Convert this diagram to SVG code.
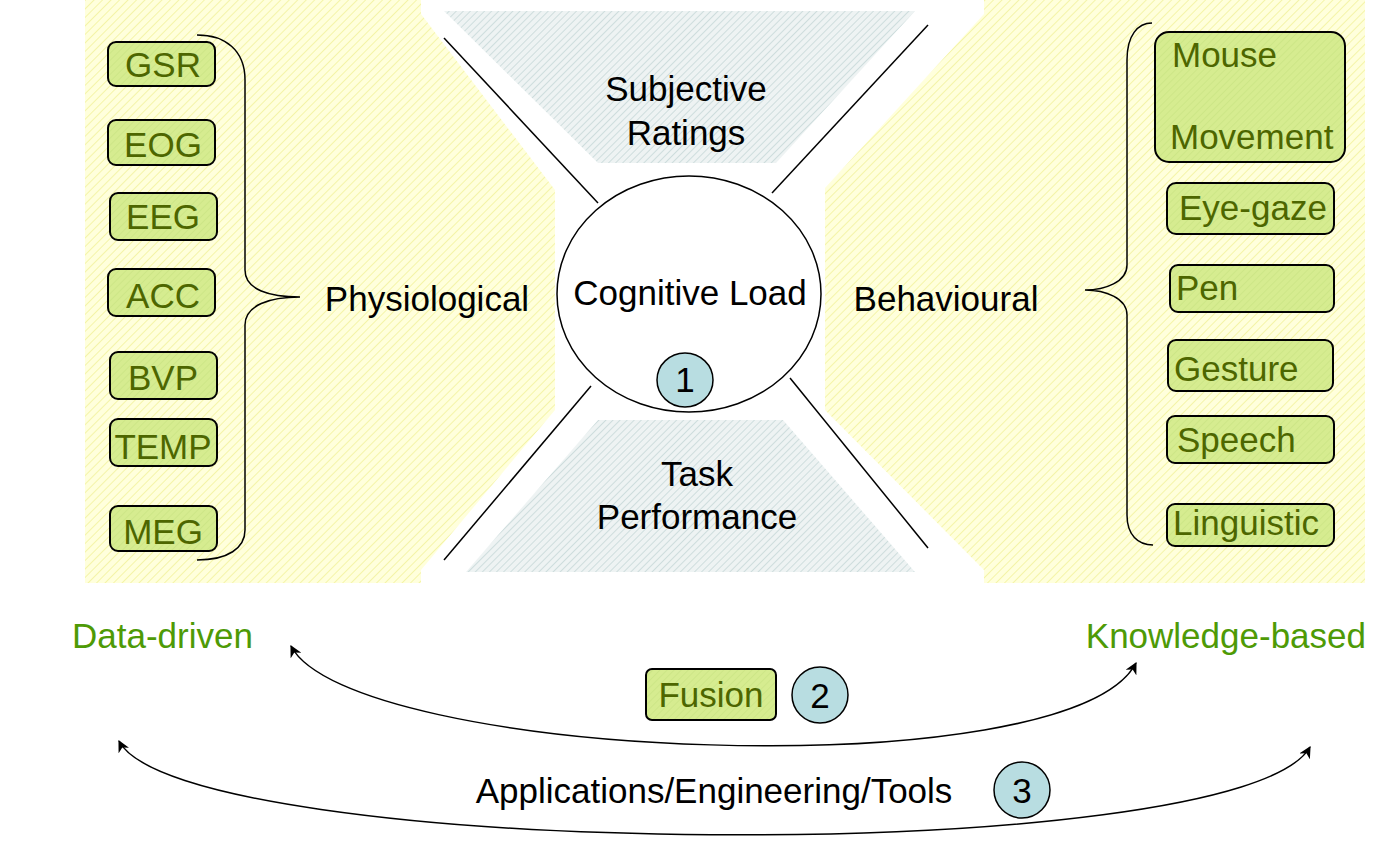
<svg xmlns="http://www.w3.org/2000/svg" width="1391" height="844" viewBox="0 0 1391 844">
<defs>
<pattern id="yh" width="6" height="6" patternUnits="userSpaceOnUse" patternTransform="rotate(45)"><rect width="6" height="6" fill="#ffffdc"/><line x1="0" y1="0" x2="0" y2="6" stroke="#f4f4a8" stroke-width="2"/></pattern>
<pattern id="gh" width="5" height="5" patternUnits="userSpaceOnUse" patternTransform="rotate(45)"><rect width="5" height="5" fill="#eef3f3"/><line x1="0" y1="0" x2="0" y2="5" stroke="#c4d6d6" stroke-width="1.5"/></pattern>
<pattern id="bh" width="5" height="5" patternUnits="userSpaceOnUse" patternTransform="rotate(45)"><rect width="5" height="5" fill="#d6ec90"/><line x1="0" y1="0" x2="0" y2="5" stroke="#cbe584" stroke-width="1.5"/></pattern>
<marker id="ar" viewBox="0 0 10 10" refX="9" refY="5" markerWidth="12" markerHeight="12" orient="auto-start-reverse" markerUnits="userSpaceOnUse"><path d="M0,0 L10,5 L0,10 L3,5 z" fill="#000"/></marker>
</defs>
<style>
.box{fill:url(#bh);stroke:#000;stroke-width:2}
.bt{font-family:"Liberation Sans",Arial,sans-serif;font-size:35px;fill:#4d6600}
.t{font-family:"Liberation Sans",Arial,sans-serif;font-size:35px;fill:#000}
.g{font-family:"Liberation Sans",Arial,sans-serif;font-size:35px;fill:#4e9a06}
.ln{stroke:#000;stroke-width:1.5;fill:none}
.badge{fill:#b8dde1;stroke:#000;stroke-width:1.5}
</style>
<rect width="1391" height="844" fill="#fff"/>
<g id="bg">
<polygon points="85,0 421,0 421,14 555,190 555,410 421,570 421,583 85,583" fill="url(#yh)"/>
<polygon points="1365,0 984,0 984,14 825,188 825,410 984,570 984,583 1365,583" fill="url(#yh)"/>
<polygon points="444,11 915,11 776,163 598,163" fill="url(#gh)"/>
<polygon points="598,420 783,420 915,572 466,572" fill="url(#gh)"/>
</g>
<g id="frame-lines">
<line class="ln" x1="444" y1="38" x2="598" y2="203"/>
<line class="ln" x1="928" y1="25" x2="772" y2="193"/>
<line class="ln" x1="591" y1="386" x2="444" y2="560"/>
<line class="ln" x1="790" y1="378" x2="928" y2="548"/>
</g>
<g id="subjective"><text class="t" x="686" y="101" text-anchor="middle">Subjective</text><text class="t" x="686" y="145" text-anchor="middle">Ratings</text></g>
<g id="task"><text class="t" x="697" y="486" text-anchor="middle">Task</text><text class="t" x="697" y="529" text-anchor="middle">Performance</text></g>
<g id="cognitive"><ellipse cx="689" cy="294" rx="132" ry="118" fill="#fff" stroke="#000" stroke-width="1.5"/><text class="t" x="690" y="305" text-anchor="middle">Cognitive Load</text></g>
<g id="badge1"><ellipse class="badge" cx="685" cy="380" rx="28" ry="27"/><text class="t" x="685" y="392" text-anchor="middle">1</text></g>
<g id="physiological"><text class="t" x="427" y="311" text-anchor="middle">Physiological</text></g>
<g id="behavioural"><text class="t" x="946" y="311" text-anchor="middle">Behavioural</text></g>
<g id="left-brace"><path class="ln" d="M197,35 C225,35 245,50 245,80 L245,270 C245,290 270,297 300,297 C270,297 245,305 245,325 L245,530 C245,548 228,560 197,560"/></g>
<g id="right-brace"><path class="ln" d="M1152,23 C1138,23 1127,35 1127,60 L1127,265 C1127,282 1105,290 1085,290 C1105,290 1127,298 1127,315 L1127,515 C1127,535 1138,545 1153,545"/></g>
<g id="gsr"><rect class="box" x="108" y="42" width="107" height="44" rx="8"/><text class="bt" x="163" y="77" text-anchor="middle">GSR</text></g>
<g id="eog"><rect class="box" x="108" y="120" width="107" height="45" rx="8"/><text class="bt" x="163" y="157" text-anchor="middle">EOG</text></g>
<g id="eeg"><rect class="box" x="110" y="193" width="107" height="47" rx="8"/><text class="bt" x="163" y="229" text-anchor="middle">EEG</text></g>
<g id="acc"><rect class="box" x="108" y="269" width="107" height="47" rx="8"/><text class="bt" x="163" y="308" text-anchor="middle">ACC</text></g>
<g id="bvp"><rect class="box" x="110" y="352" width="107" height="47" rx="8"/><text class="bt" x="163" y="390" text-anchor="middle">BVP</text></g>
<g id="temp"><rect class="box" x="110" y="419" width="107" height="47" rx="8"/><text class="bt" x="163" y="459" text-anchor="middle">TEMP</text></g>
<g id="meg"><rect class="box" x="110" y="506" width="107" height="45" rx="8"/><text class="bt" x="163" y="544" text-anchor="middle">MEG</text></g>
<g id="mouse"><rect class="box" x="1155" y="32" width="190" height="130" rx="14" stroke-width="4"/><text class="bt" x="1172" y="67">Mouse</text><text class="bt" x="1170" y="149">Movement</text></g>
<g id="eyegaze"><rect class="box" x="1167" y="183" width="167" height="51" rx="9"/><text class="bt" x="1179" y="220">Eye-gaze</text></g>
<g id="pen"><rect class="box" x="1170" y="265" width="164" height="47" rx="8"/><text class="bt" x="1176" y="300">Pen</text></g>
<g id="gesture"><rect class="box" x="1168" y="340" width="165" height="51" rx="8"/><text class="bt" x="1174" y="381">Gesture</text></g>
<g id="speech"><rect class="box" x="1167" y="416" width="167" height="47" rx="8"/><text class="bt" x="1177" y="452">Speech</text></g>
<g id="linguistic"><rect class="box" x="1167" y="504" width="167" height="42" rx="8"/><text class="bt" x="1173" y="535">Linguistic</text></g>
<g id="datadriven"><text class="g" x="72" y="648">Data-driven</text></g>
<g id="knowledge"><text class="g" x="1366" y="648" text-anchor="end">Knowledge-based</text></g>
<g id="connectors">
<path class="ln" d="M291,646 C350,760 1070,790 1136,663" marker-start="url(#ar)" marker-end="url(#ar)"/>
<path class="ln" d="M119,741 C180,860 1240,870 1310,747" marker-start="url(#ar)" marker-end="url(#ar)"/>
</g>
<g id="fusion"><rect class="box" x="646" y="669" width="130" height="51" rx="6"/><text class="bt" x="711" y="707" text-anchor="middle">Fusion</text></g>
<g id="badge2"><ellipse class="badge" cx="820" cy="695" rx="28" ry="28"/><text class="t" x="820" y="708" text-anchor="middle">2</text></g>
<g id="applications"><text class="t" x="714" y="803" text-anchor="middle">Applications/Engineering/Tools</text></g>
<g id="badge3"><ellipse class="badge" cx="1022" cy="790" rx="28" ry="28"/><text class="t" x="1022" y="803" text-anchor="middle">3</text></g>
</svg>
